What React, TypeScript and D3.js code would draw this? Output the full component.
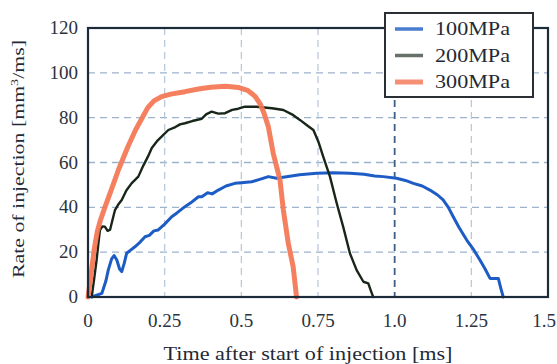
import React from "react";
import * as d3 from "d3";

const xTicks = [0, 0.25, 0.5, 0.75, 1.0, 1.25, 1.5];
const xTickLabels = ["0", "0.25", "0.5", "0.75", "1.0", "1.25", "1.5"];
const yTicks = [0, 20, 40, 60, 80, 100, 120];

const seriesNames = ["100MPa", "200MPa", "300MPa"];
const seriesColors = ["#1d5cc4", "#18261a", "#f47553"];
const seriesWidths = [3, 2.4, 5];

const s100: [number, number][] = [
  [0.012, 0], [0.045, 1.6], [0.058, 7], [0.066, 12], [0.077, 17], [0.085, 18.5], [0.094, 16.5],
  [0.103, 12.5], [0.11, 11.3], [0.118, 15], [0.126, 19.5], [0.14, 21], [0.153, 22.4],
  [0.17, 24.5], [0.186, 26.9], [0.2, 27.5], [0.215, 29.5], [0.229, 29.9], [0.25, 32.5],
  [0.273, 35.8], [0.29, 37.5], [0.316, 40.3], [0.335, 42], [0.36, 44.7], [0.371, 44.7],
  [0.39, 46.5], [0.405, 46], [0.425, 47.7], [0.45, 49.5], [0.479, 50.7], [0.5, 51],
  [0.534, 51.4], [0.56, 52.5], [0.588, 53.7], [0.615, 53], [0.642, 53.5], [0.69, 54.5],
  [0.746, 55.2], [0.8, 55.4], [0.854, 55.2], [0.9, 54.8], [0.935, 54], [0.963, 53.7],
  [1.006, 53], [1.035, 52], [1.061, 50.7], [1.09, 49.5], [1.115, 47.7], [1.14, 45.5],
  [1.158, 43.3], [1.175, 40], [1.191, 35.8], [1.21, 31], [1.235, 25.4], [1.258, 21],
  [1.278, 16.5], [1.295, 12.5], [1.311, 8.3], [1.338, 8.3], [1.346, 4], [1.354, 0],
];

const s200: [number, number][] = [
  [0.012, 0], [0.02, 8], [0.028, 16.5], [0.034, 24], [0.039, 29.9], [0.047, 31.5],
  [0.055, 31.4], [0.064, 29.5], [0.072, 30], [0.08, 34.5], [0.088, 38.8], [0.1, 41.5],
  [0.11, 43.3], [0.125, 47.5], [0.142, 50.7], [0.164, 53.7], [0.18, 58.5], [0.195, 62.5],
  [0.208, 66.5], [0.225, 69.5], [0.24, 71.5], [0.262, 74.5], [0.285, 75.8], [0.3, 77],
  [0.316, 77.5], [0.34, 78.5], [0.371, 79.5], [0.385, 81.5], [0.403, 82.7], [0.425, 81.8],
  [0.447, 82], [0.47, 83.5], [0.49, 84], [0.512, 84.9], [0.55, 84.9], [0.6, 84.2],
  [0.637, 83.4], [0.665, 81.5], [0.691, 79], [0.715, 76.5], [0.735, 74.5], [0.752, 69],
  [0.767, 62.6], [0.789, 53.7], [0.811, 41.8], [0.832, 31.4], [0.854, 19.5], [0.876, 12],
  [0.898, 6.8], [0.914, 6.1], [0.922, 3], [0.93, 0],
];

const s300: [number, number][] = [
  [0, 0], [0.01, 10], [0.02, 21], [0.03, 29], [0.04, 34], [0.055, 40], [0.075, 47.5],
  [0.1, 57], [0.13, 67], [0.155, 74.5], [0.175, 79.5], [0.195, 84.5], [0.215, 87.5],
  [0.24, 89.4], [0.27, 90.5], [0.316, 91.6], [0.36, 92.8], [0.4, 93.6], [0.45, 94],
  [0.49, 93.5], [0.52, 92.2], [0.545, 89.5], [0.562, 86], [0.574, 82], [0.588, 76],
  [0.604, 64.1], [0.626, 52.2], [0.637, 38.8], [0.653, 24], [0.669, 13.5], [0.68, 0],
];

const seriesData = [s100, s200, s300];

export default function App() {
  const W = 557, H = 364;
  const left = 88, right = 548, top = 28, bottom = 297;
  const x = d3.scaleLinear().domain([0, 1.5]).range([left, right]);
  const y = d3.scaleLinear().domain([0, 120]).range([bottom, top]);
  const line = d3.line<[number, number]>().x(d => x(d[0])).y(d => y(d[1])).curve(d3.curveLinear);
  const font = '"Liberation Serif", Times, serif';

  return (
    <svg width={W} height={H} style={{ position: "absolute", left: 0, top: 0, background: "#fff", fontFamily: font }}>
      <rect x={0} y={0} width={W} height={H} fill="#fff" />
      {/* grid */}
      {yTicks.filter(v => v > 0 && v < 120).map(v => (
        <line key={"gy" + v} x1={left} x2={right} y1={y(v)} y2={y(v)} stroke="#9db3cc" strokeWidth={1.3} strokeDasharray="7,5" />
      ))}
      {xTicks.filter(v => v > 0 && v < 1.5).map(v => (
        <line key={"gx" + v} x1={x(v)} x2={x(v)} y1={top} y2={bottom}
          stroke={v === 1.0 ? "#3d5f86" : "#b5c6da"} strokeWidth={v === 1.0 ? 1.8 : 1.2} strokeDasharray="7,5" />
      ))}
      {/* series */}
      {seriesData.map((d, i) => (
        <path key={"s" + i} d={line(d) || ""} fill="none" stroke={seriesColors[i]} strokeWidth={seriesWidths[i]}
          strokeLinejoin="round" strokeLinecap="round" opacity={i === 2 ? 0.92 : 1} />
      ))}
      {/* frame */}
      <rect x={left} y={top} width={right - left} height={bottom - top} fill="none" stroke="#1b2b3a" strokeWidth={2.2} />
      {/* y ticks */}
      {yTicks.map(v => (
        <text key={"ty" + v} x={78} y={y(v) + 6} textAnchor="end" fontSize={19} fill="#2a3340" style={{ fontFamily: font }}>{v}</text>
      ))}
      {/* x ticks */}
      {xTicks.map((v, i) => (
        <text key={"tx" + v} x={i === xTicks.length - 1 ? 556 : x(v)} y={327}
          textAnchor={i === xTicks.length - 1 ? "end" : "middle"} fontSize={19} fill="#2a3340" style={{ fontFamily: font }}>{xTickLabels[i]}</text>
      ))}
      {/* axis labels */}
      <text x={308} y={360} textAnchor="middle" fontSize={19} fill="#1f2a36" textLength={289} lengthAdjust="spacingAndGlyphs" style={{ fontFamily: font }}>
        Time after start of injection [ms]
      </text>
      <text transform="translate(24,159) rotate(-90)" textAnchor="middle" fontSize={17} fill="#1f2a36"
        textLength={238} lengthAdjust="spacingAndGlyphs" style={{ fontFamily: font }}>
        Rate of injection [mm<tspan dy={-6} fontSize={11}>3</tspan><tspan dy={6}>/ms]</tspan>
      </text>
      {/* legend */}
      <rect x={385} y={13} width={148} height={84} fill="#fff" stroke="#2a2f36" strokeWidth={2} />
      {seriesNames.map((n, i) => (
        <g key={"lg" + i}>
          <line x1={395} x2={423} y1={29 + i * 26.5} y2={29 + i * 26.5} stroke={seriesColors[i]}
            strokeWidth={i === 2 ? 5 : 3.5} opacity={i === 1 ? 0.65 : 0.8} />
          <text x={435} y={35 + i * 26.5} fontSize={19} fill="#1f2a36" textLength={75} lengthAdjust="spacingAndGlyphs" style={{ fontFamily: font }}>{n}</text>
        </g>
      ))}
    </svg>
  );
}
